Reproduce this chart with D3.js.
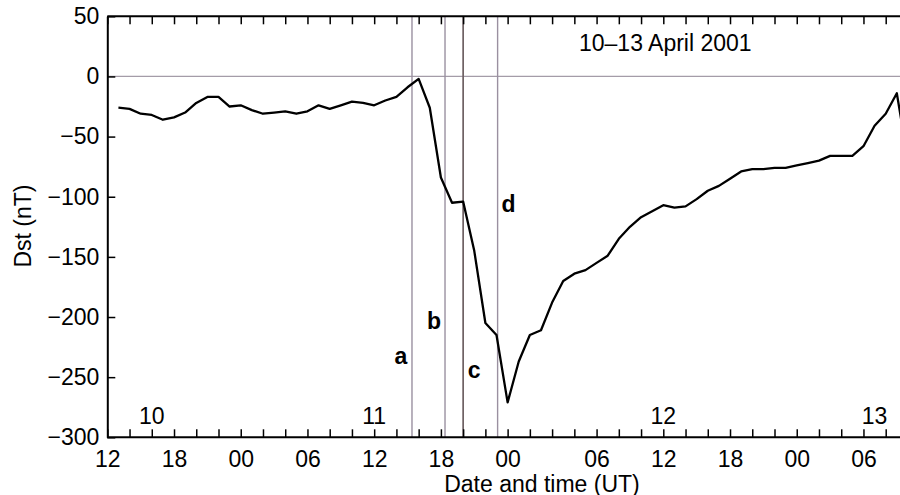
<!DOCTYPE html>
<html>
<head>
<meta charset="utf-8">
<script src="https://cdn.jsdelivr.net/npm/d3@7"></script>
<style>
  body { margin: 0; background: #fff; }
  svg text { font-family: "Liberation Sans", Arial, Helvetica, sans-serif; fill: #000; }
</style>
</head>
<body>
<div id="chart"></div>
<script>
// hours since 10 April 2001 12 UT
const hours = d3.range(1, 73)
const dst = [
  -26, -27, -31, -32, -36, -34, -30, -22, -17, -17,
  -25, -24, -28, -31, -30, -29, -31, -29, -24, -27,
  -24, -21, -22, -24, -20, -17, -9, -2, -26, -84,
  -105, -104, -145, -205, -215, -271, -237, -215, -211, -188,
  -170, -164, -161, -155, -149, -135, -125, -117, -112, -107,
  -109, -108, -102, -95, -91, -85, -79, -77, -77, -76,
  -76, -74, -72, -70, -66, -66, -66, -58, -41, -31,
  -14, -70
]

const timeTickHours = [0, 6, 12, 18, 24, 30, 36, 44, 50, 56, 62, 68]
const timeTickLabels = ['12', '18', '00', '06', '12', '18', '00', '06', '12', '18', '00', '06']
const dayHours = [4, 24, 50, 69]
const dayLabels = ['10', '11', '12', '13']
const eventHours = [27.4, 30.37, 32, 35.1]
const eventNames = ['a', 'b', 'c', 'd']
const eventLabelDst = [-239, -210, -251, -113]

const width = 900
const height = 495
const plotLeft = 107.3
const plotTop = 16.3
const plotBottom = 437.3
const pxPerHour = 11.12

const x = d3.scaleLinear().domain([0, 72]).range([plotLeft, plotLeft + 72 * pxPerHour])
const y = d3.scaleLinear().domain([-300, 50]).range([plotBottom, plotTop])

const svg = d3.select('#chart').append('svg')
    .attr('width', width)
    .attr('height', height)

svg.append('defs').append('clipPath').attr('id', 'plotclip')
    .append('rect')
    .attr('x', plotLeft).attr('y', plotTop)
    .attr('width', width - plotLeft).attr('height', plotBottom - plotTop)

const plot = svg.append('g').attr('clip-path', 'url(#plotclip)')

// zero line
plot.append('line')
    .attr('x1', plotLeft).attr('x2', width)
    .attr('y1', y(0)).attr('y2', y(0))
    .attr('stroke', '#a49ca8')
    .attr('stroke-width', 1.2)

// event lines
plot.selectAll('.event')
    .data(eventHours)
    .enter().append('line')
    .attr('class', 'event')
    .attr('x1', d => x(d)).attr('x2', d => x(d))
    .attr('y1', plotTop).attr('y2', plotBottom)
    .attr('stroke', (d, i) => i == 2 ? '#6e6163' : '#9a90a0')
    .attr('stroke-width', (d, i) => i == 2 ? 1.7 : 1.4)

// Dst curve
const line = d3.line()
    .x((d, i) => x(hours[i]))
    .y(d => y(d))

plot.append('path')
    .datum(dst)
    .attr('d', line)
    .attr('fill', 'none')
    .attr('stroke', '#000')
    .attr('stroke-width', 2.3)
    .attr('stroke-linejoin', 'round')

// event labels
svg.selectAll('.evlabel')
    .data(eventNames)
    .enter().append('text')
    .attr('class', 'evlabel')
    .attr('x', (d, i) => x(eventHours[i]) + (i < 2 ? -11 : 11))
    .attr('y', (d, i) => y(eventLabelDst[i]))
    .attr('text-anchor', 'middle')
    .style('font-size', '23px')
    .style('font-weight', 'bold')
    .text(d => d)

// axes
const xTicks = d3.sort(new Set(d3.range(2, 72, 2).concat(timeTickHours)))

const xAxis = d3.axisBottom(x)
    .tickValues(xTicks)
    .tickSizeInner(-8)
    .tickSizeOuter(0)
    .tickPadding(13)
    .tickFormat(d => {
        let k = timeTickHours.indexOf(d)
        return k >= 0 ? timeTickLabels[k] : ''
    })

const gx = svg.append('g')
    .attr('transform', 'translate(0,' + plotBottom + ')')
    .call(xAxis)

const gTop = svg.append('g')
    .attr('transform', 'translate(0,' + plotTop + ')')
    .call(d3.axisTop(x).tickValues(xTicks).tickSizeInner(-8).tickSizeOuter(0).tickFormat(''))

const gy = svg.append('g')
    .attr('transform', 'translate(' + plotLeft + ',0)')
    .call(d3.axisLeft(y).tickValues(d3.range(-300, 51, 50)).tickSizeInner(-8).tickSizeOuter(0).tickPadding(8))

for (const g of [gx, gTop, gy]) {
    g.select('.domain').attr('stroke', '#000').attr('stroke-width', 2)
    g.selectAll('.tick line').attr('stroke', '#000').attr('stroke-width', 1.5)
    g.selectAll('.tick text').style('font-size', '23px').attr('fill', '#000')
        .style('font-family', '"Liberation Sans", Arial, Helvetica, sans-serif')
}
gTop.select('.domain').attr('d', 'M' + plotLeft + ',0H' + width)
gx.select('.domain').attr('d', 'M' + plotLeft + ',0H' + width)

// day labels
svg.selectAll('.day')
    .data(dayLabels)
    .enter().append('text')
    .attr('class', 'day')
    .attr('x', (d, i) => x(dayHours[i]))
    .attr('y', plotBottom - 13)
    .attr('text-anchor', 'middle')
    .style('font-size', '23px')
    .text(d => d)

// title and axis titles
svg.append('text')
    .attr('x', 579).attr('y', 51)
    .style('font-size', '23px')
    .text('10–13 April 2001')

svg.append('text')
    .attr('x', 542).attr('y', 491.5)
    .attr('text-anchor', 'middle')
    .style('font-size', '23px')
    .text('Date and time (UT)')

svg.append('text')
    .attr('transform', 'translate(31,226) rotate(-90)')
    .attr('text-anchor', 'middle')
    .style('font-size', '23px')
    .text('Dst (nT)')
</script>
</body>
</html>
